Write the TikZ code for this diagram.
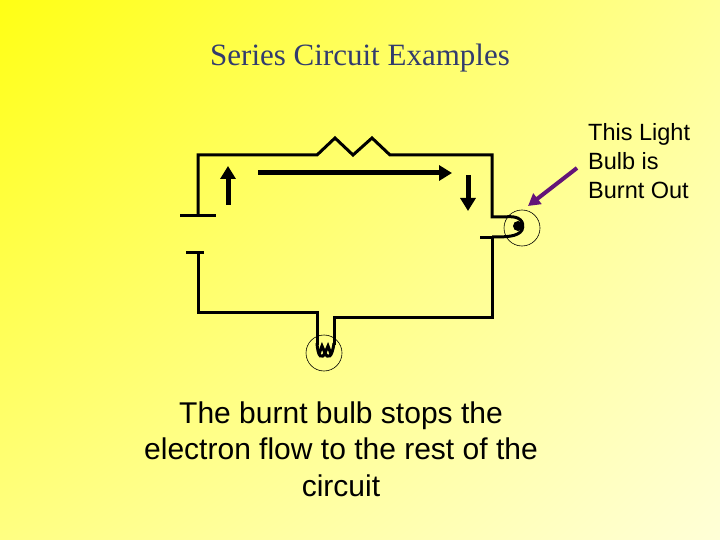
\documentclass[tikz,border=0pt]{standalone}
\usepackage{fontspec}
\usetikzlibrary{arrows.meta,shadings}
\setmainfont{Liberation Sans}
\newfontfamily\titlefont{Liberation Serif}
\begin{document}
\begin{tikzpicture}[x=1pt,y=-1pt,
 wire/.style={line width=3pt,line join=miter},
 thin/.style={line width=0.6pt},
 flow/.style={line width=5pt,-{Triangle[length=13pt,width=15pt]}}]
\definecolor{ytop}{RGB}{255,255,20}
\definecolor{ybot}{RGB}{255,255,215}
\definecolor{ttl}{RGB}{50,60,110}
\definecolor{purp}{RGB}{100,20,120}
\useasboundingbox (0,0) rectangle (720,540);
\shade[upper left=ytop,upper right={rgb,255:red,255;green,255;blue,150},lower left={rgb,255:red,255;green,255;blue,130},lower right=ybot] (0,0) rectangle (720,540);
\node[font=\titlefont\fontsize{31}{34}\selectfont,text=ttl] (title) at (360,58) {Series Circuit Examples};
% circuit
\draw[wire] (180,216) -- (216,216);
\draw[wire] (186,252) -- (204,252);
\draw[wire] (198,216) -- (198,155) -- (317,155) -- (335,138) -- (353,155) -- (372,138) -- (390,155) -- (492,155) -- (492,217) -- (505,217);
\draw[wire] (480,237) -- (492,237) -- (492,317) -- (334,317) -- (334,345);
\draw[wire] (198,252) -- (198,312) -- (317,312) -- (317,345);
% bulb bottom
\draw[wire] (317,343) .. controls (318,358) and (322,359) .. (325,353) .. controls (328,359) and (332,358) .. (334,343);
\draw[wire] (319,354) -- (322,346) -- (325,353) -- (328,346) -- (331,354);
\node[draw,circle,thin,minimum size=36pt,inner sep=0pt] (b1) at (324,353) {};
% bulb right
\draw[wire] (505,217) .. controls (520,215) and (525,222) .. (522,230) .. controls (518,237) and (505,237) .. (492,237);
\fill (518,226) circle (5pt);
\node[draw,circle,thin,minimum size=36pt,inner sep=0pt] (b2) at (522,228) {};
% flow arrows
\coordinate (u1) at (228,205); \coordinate (u2) at (228,166);
\coordinate (h1) at (258,173); \coordinate (h2) at (452,173);
\coordinate (d1) at (468,175); \coordinate (d2) at (468,211);
\draw[flow] (u1) -- (u2);
\draw[flow] (h1) -- (h2);
\draw[flow] (d1) -- (d2);
\coordinate (p1) at (577,168); \coordinate (p2) at (528,206);
\draw[purp,line width=4pt,-{Triangle[length=12pt,width=13pt]}] (p1) -- (p2);
\node[font=\fontsize{23.5}{29}\selectfont,align=left,anchor=north west,inner sep=0pt] (lab) at (588,123) {This Light\\Bulb is\\Burnt Out};
\node[font=\fontsize{30}{36.5}\selectfont,align=center] (cap) at (341,449) {The burnt bulb stops the\\electron flow to the rest of the\\circuit};
\end{tikzpicture}
\end{document}
